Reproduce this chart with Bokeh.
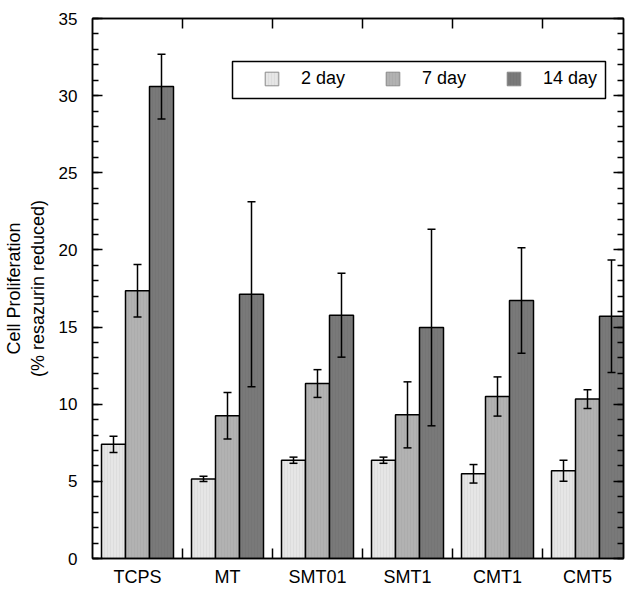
import numpy as np
from bokeh.plotting import figure
from bokeh.models import (ColumnDataSource, Range1d, FixedTicker, SingleIntervalTicker,
                          LinearAxis, Whisker, TeeHead, Legend, LegendItem, BoxAnnotation)
from bokeh.embed import file_html
from bokeh.resources import INLINE

groups = ["TCPS", "MT", "SMT01", "SMT1", "CMT1", "CMT5"]
series_names = ["2 day", "7 day", "14 day"]
day2 = [7.4, 5.16, 6.37, 6.37, 5.49, 5.68]
day2_err = [0.53, 0.17, 0.2, 0.2, 0.6, 0.68]
day7 = [17.35, 9.25, 11.34, 9.31, 10.5, 10.33]
day7_err = [1.7, 1.51, 0.9, 2.14, 1.27, 0.6]
day14 = [30.59, 17.13, 15.77, 14.97, 16.72, 15.7]
day14_err = [2.1, 6.0, 2.72, 6.37, 3.42, 3.64]
y_ticks = [0, 5, 10, 15, 20, 25, 30, 35]

fills = ["#e6e6e6", "#b2b2b2", "#797979"]
hatch_cols = ["#d4d4d4", "#a6a6a6", "#727272"]
FONT = "Liberation Sans"

p = figure(width=629, height=589, output_backend="svg", toolbar_location=None,
           x_range=Range1d(-0.5, 5.4), y_range=Range1d(0, 35),
           min_border_left=86, min_border_right=6, min_border_top=18,
           min_border_bottom=30, x_axis_location=None, y_axis_location=None)
p.xgrid.visible = False
p.ygrid.visible = False
p.outline_line_color = "black"
p.outline_line_width = 1.5
p.background_fill_color = "white"
p.border_fill_color = "white"

bw = 0.8 / 3
idx = np.arange(len(groups))
offsets = [-bw, 0.0, bw]
vals = [day2, day7, day14]
errs = [day2_err, day7_err, day14_err]

legend_renderers = []
for k in range(3):
    v = np.array(vals[k])
    e = np.array(errs[k])
    src = ColumnDataSource(dict(x=idx + offsets[k], top=v, upper=v + e, lower=v - e))
    p.vbar(x="x", top="top", bottom=0, width=bw, source=src,
           fill_color=fills[k], line_color="black", line_width=1.5,
           hatch_pattern="vertical_line", hatch_color=hatch_cols[k],
           hatch_scale=3, hatch_weight=1, hatch_alpha=0.5)
    # swatch-only renderer for the legend (thin grey outline as in the original);
    # its single placeholder row is NaN, so nothing is drawn in the plot area
    lsrc = ColumnDataSource(dict(x=[np.nan], top=[np.nan]))
    lr = p.vbar(x="x", top="top", width=bw, source=lsrc, fill_color=fills[k],
                line_color="#8c8c8c", line_width=1, hatch_pattern="vertical_line",
                hatch_color=hatch_cols[k], hatch_scale=3, hatch_weight=1, hatch_alpha=0.5)
    legend_renderers.append(lr)
    p.add_layout(Whisker(source=src, base="x", upper="upper", lower="lower",
                         line_color="black", line_width=1.5, level="overlay",
                         upper_head=TeeHead(size=8, line_width=1.5, line_color="black"),
                         lower_head=TeeHead(size=8, line_width=1.5, line_color="black")))

# axes
label_map = {int(i): g for i, g in enumerate(groups)}
bounds = [i + 0.5 for i in range(len(groups) - 1)]

xb = LinearAxis(ticker=FixedTicker(ticks=list(range(len(groups))), minor_ticks=bounds))
xb.major_label_overrides = label_map
xb.major_tick_in = 0
xb.major_tick_out = 0
xb.minor_tick_in = 10
xb.minor_tick_out = 0
xb.minor_tick_line_width = 1.5
xb.axis_line_width = 1.5
xb.major_label_standoff = 8
xb.major_label_text_font = FONT
xb.major_label_text_font_size = "18px"
xb.major_label_text_color = "black"
p.add_layout(xb, "below")

xt = LinearAxis(ticker=FixedTicker(ticks=list(range(len(groups))), minor_ticks=bounds))
xt.major_label_overrides = {int(i): "" for i in range(len(groups))}
xt.major_tick_in = 0
xt.major_tick_out = 0
xt.minor_tick_in = 10
xt.minor_tick_out = 0
xt.minor_tick_line_width = 1.5
xt.axis_line_width = 1.5
xt.major_label_standoff = 0
p.add_layout(xt, "above")

yl = LinearAxis(ticker=SingleIntervalTicker(interval=5, num_minor_ticks=5))
yl.major_tick_in = 10
yl.major_tick_out = 0
yl.minor_tick_in = 6
yl.minor_tick_out = 0
yl.major_tick_line_width = 1.5
yl.minor_tick_line_width = 1.5
yl.axis_line_width = 1.5
yl.major_label_standoff = 15
yl.major_label_text_font = FONT
yl.major_label_text_font_size = "17px"
yl.major_label_text_color = "black"
yl.axis_label = "Cell Proliferation\n(% resazurin reduced)"
yl.axis_label_text_font = FONT
yl.axis_label_text_font_size = "18px"
yl.axis_label_text_font_style = "normal"
yl.axis_label_text_color = "black"
yl.axis_label_standoff = 8
p.add_layout(yl, "left")

yr = LinearAxis(ticker=SingleIntervalTicker(interval=5, num_minor_ticks=5))
yr.major_label_overrides = {t: "" for t in y_ticks}
yr.major_tick_in = 10
yr.major_tick_out = 0
yr.minor_tick_in = 6
yr.minor_tick_out = 0
yr.major_tick_line_width = 1.5
yr.minor_tick_line_width = 1.5
yr.axis_line_width = 1.5
yr.major_label_standoff = 0
p.add_layout(yr, "right")

# legend frame (screen units, relative to the plot frame)
p.add_layout(BoxAnnotation(left=140, right=513, bottom=460, top=497,
                           left_units="screen", right_units="screen",
                           bottom_units="screen", top_units="screen",
                           fill_color="white", fill_alpha=1.0,
                           line_color="black", line_alpha=1.0, line_width=1.5,
                           level="annotation"))

legend = Legend(items=[LegendItem(label=series_names[k], renderers=[legend_renderers[k]])
                       for k in range(3)],
                orientation="horizontal", location=(163, 461))
legend.label_text_font = FONT
legend.label_text_font_size = "18px"
legend.label_text_color = "black"
legend.label_height = 17
legend.label_width = 82
legend.glyph_width = 17
legend.glyph_height = 17
legend.label_standoff = 21
legend.spacing = 1
legend.padding = 8
legend.margin = 0
legend.border_line_alpha = 0
legend.background_fill_alpha = 0
p.add_layout(legend, "center")

open("out.html", "w").write(file_html(p, INLINE))
